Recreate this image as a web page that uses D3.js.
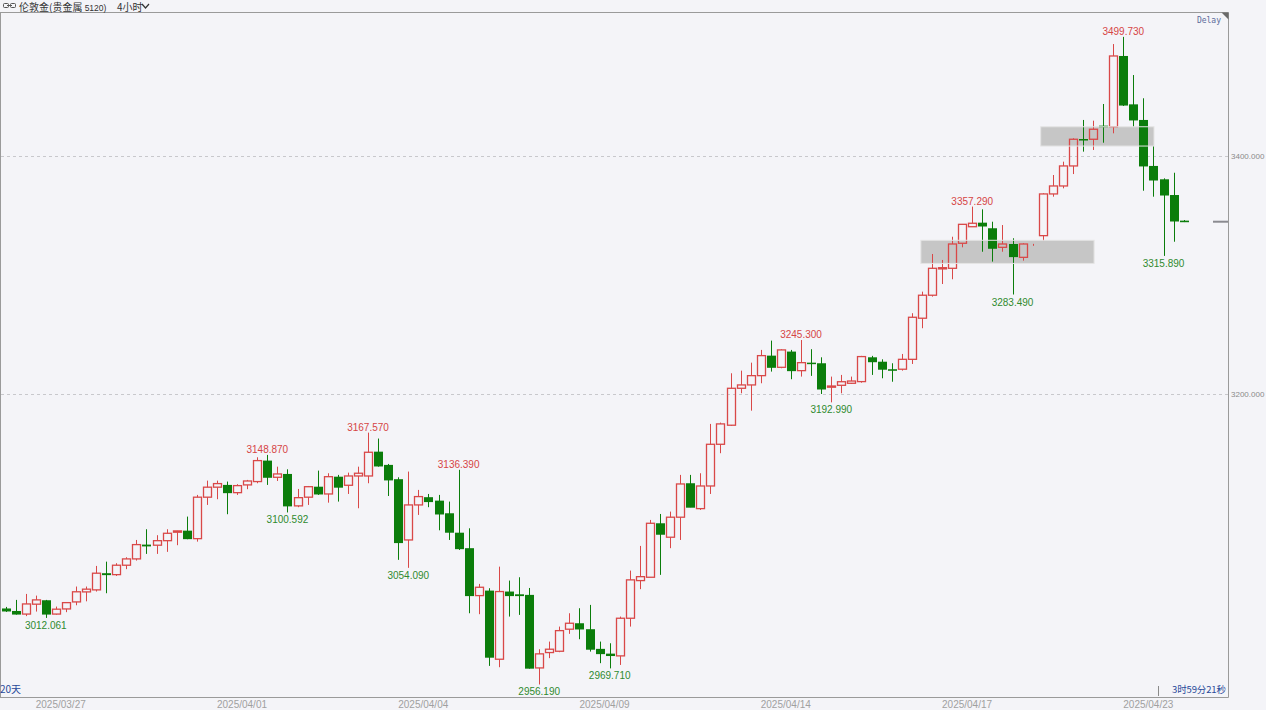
<!DOCTYPE html>
<html><head><meta charset="utf-8">
<script src="https://cdn.jsdelivr.net/npm/d3@7"></script>
<style>html,body{margin:0;padding:0;background:#f4f4f8;overflow:hidden}svg{display:block}</style>
</head><body>
<svg id="c" width="1266" height="710"></svg>
<script>
// ---- data (4-hour candles, London gold) ----
const opens  = [3020.0,3017.9,3015.3,3023.6,3026.9,3015.3,3019.6,3025.5,3033.9,3035.6,3049.6,3048.4,3056.3,3061.6,3073.6,3073.1,3076.9,3084.0,3085.3,3078.6,3113.4,3121.8,3123.7,3117.2,3123.7,3126.5,3144.1,3130.1,3132.9,3106.1,3113.4,3122.2,3116.1,3130.6,3123.4,3131.2,3131.2,3151.6,3140.5,3128.5,3077.5,3106.9,3113.4,3110.5,3099.9,3083.6,3070.6,3030.8,3035.0,2977.4,3034.2,3031.9,3031.4,2970.1,2983.0,2984.1,3002.6,3007.6,3002.6,2986.1,2982.1,2980.2,3011.8,3043.4,3046.2,3091.5,3079.8,3096.6,3125.1,3103.8,3122.8,3157.8,3173.8,3204.8,3207.6,3215.4,3232.2,3222.4,3235.6,3219.6,3226.3,3225.8,3205.7,3207.3,3209.0,3210.4,3230.8,3227.1,3220.8,3220.8,3229.1,3263.6,3282.9,3305.0,3305.5,3326.5,3340.4,3343.8,3339.1,3323.1,3325.9,3314.7,3325.6,3332.9,3367.9,3374.6,3391.4,3414.0,3413.8,3425.2,3424.3,3483.7,3443.1,3430.0,3391.4,3380.2,3367.0,3345.5];
const highs  = [3021.3,3027.2,3032.2,3030.8,3027.2,3021.6,3025.4,3038.4,3038.4,3055.7,3059.3,3058.0,3063.0,3077.5,3086.5,3081.5,3086.5,3085.2,3097.1,3115.3,3127.3,3127.3,3126.5,3124.3,3127.9,3146.9,3148.87,3139.0,3136.8,3120.3,3122.8,3135.7,3133.5,3132.1,3134.0,3139.0,3167.57,3162.6,3141.3,3130.1,3134.9,3119.5,3116.1,3115.3,3109.7,3136.39,3087.3,3040.6,3037.0,3055.1,3043.4,3046.2,3037.2,2985.8,2992.2,3004.8,3016.0,3020.2,3023.0,2992.2,2990.8,3013.2,3051.8,3072.5,3094.3,3099.3,3101.3,3132.1,3132.1,3133.5,3174.9,3176.0,3217.4,3219.6,3226.3,3237.0,3244.8,3237.6,3237.0,3245.3,3237.6,3230.8,3214.6,3216.0,3214.6,3232.0,3232.0,3229.1,3225.8,3233.6,3267.8,3285.9,3317.5,3312.5,3332.0,3342.7,3357.29,3355.0,3344.6,3341.8,3330.7,3326.5,3326.0,3368.5,3383.8,3395.0,3414.6,3430.0,3429.4,3443.4,3493.7,3499.73,3467.7,3448.2,3408.1,3381.0,3385.7,3346.0];
const lows   = [3017.1,3014.8,3013.6,3017.4,3012.061,3014.8,3016.9,3022.7,3026.0,3034.2,3032.8,3047.3,3053.0,3060.2,3065.8,3065.8,3067.5,3073.1,3078.1,3076.1,3106.9,3111.7,3099.1,3115.3,3120.1,3125.1,3123.7,3127.0,3100.592,3105.0,3106.9,3115.3,3108.8,3109.7,3116.1,3104.1,3125.1,3139.0,3114.4,3060.8,3054.09,3098.5,3105.0,3085.6,3077.5,3069.1,3016.0,3015.2,2971.8,2970.7,3013.2,3014.6,2969.5,2956.19,2978.3,2983.3,2998.7,2994.2,2983.8,2974.1,2969.71,2972.6,3004.8,3036.2,3046.2,3048.2,3070.6,3077.5,3105.0,3102.7,3116.1,3150.3,3173.2,3200.6,3186.0,3209.0,3218.8,3221.6,3212.4,3214.6,3215.2,3200.0,3192.99,3200.6,3208.4,3209.5,3216.0,3213.2,3210.3,3219.6,3225.2,3255.2,3281.7,3292.3,3296.3,3323.1,3340.4,3319.4,3311.1,3319.4,3283.49,3311.9,3325.2,3328.7,3365.6,3372.6,3384.6,3403.4,3404.8,3410.9,3418.8,3441.7,3424.3,3370.6,3365.6,3315.89,3327.8,3344.3];
const closes = [3017.9,3015.3,3023.8,3027.2,3015.3,3019.4,3024.9,3034.0,3036.2,3049.6,3048.4,3056.3,3061.6,3073.6,3072.5,3076.9,3083.1,3085.1,3078.6,3113.4,3121.8,3124.8,3117.2,3123.1,3127.0,3144.1,3130.1,3132.9,3106.1,3113.0,3122.2,3116.1,3130.6,3121.8,3131.2,3133.5,3151.1,3139.6,3127.9,3075.3,3106.9,3113.9,3109.7,3099.3,3084.0,3070.2,3030.8,3037.8,2979.1,3034.2,3030.8,3030.8,2969.9,2981.9,2985.8,3001.4,3007.6,3002.8,2985.8,2982.1,2980.5,3011.8,3044.0,3046.7,3091.5,3082.3,3096.6,3124.5,3105.0,3122.8,3157.8,3174.9,3204.8,3207.6,3215.4,3232.2,3222.4,3237.0,3219.6,3226.3,3225.5,3204.2,3206.7,3210.3,3210.9,3231.4,3227.1,3220.8,3219.9,3229.1,3264.4,3282.9,3305.5,3306.0,3325.9,3342.4,3343.3,3341.0,3322.3,3325.9,3315.3,3325.9,3325.8,3367.9,3374.6,3391.4,3413.8,3413.2,3422.2,3424.3,3483.7,3442.5,3430.0,3391.4,3379.6,3367.0,3345.2,3344.6];
const highMarks = [26, 36, 45, 79, 96, 111];
const lowMarks  = [4, 28, 40, 53, 60, 82, 100, 115];
const yTicks = [3200, 3400];
const dateTickIdx = [3, 21, 39, 57, 75, 93, 111];
const dateTickLabels = ["2025/03/27","2025/04/01","2025/04/04","2025/04/09","2025/04/14","2025/04/17","2025/04/23"];
const zones = [ {from: 90.9, to: 108.1, top: 3329.0, bottom: 3309.6}, {from: 102.8, to: 114.05, top: 3424.3, bottom: 3408.1} ];
const lastPrice = 3344.6;

// ---- drawing ----
const svg = d3.select("#c");
const W = 1266, H = 710, R = 1228.5, B = 697.5, T = 12.5;
const RED = "#d94848", GREEN = "#0b7d0b";
const x = d3.scaleLinear().domain([0, 117]).range([5.5, 1183.7]);
const y = d3.scaleLinear().domain([3200, 3400]).range([394, 155.7]);
const bw = 8;

svg.append("rect").attr("width", W).attr("height", H).attr("fill", "#f4f4f8");
svg.append("defs").append("clipPath").attr("id", "clip").append("rect")
  .attr("x", 1).attr("y", T).attr("width", R - 1).attr("height", B - T);

// grid
svg.append("g").selectAll("line").data(yTicks).join("line")
  .attr("x1", 1).attr("x2", R).attr("y1", d => Math.round(y(d)) + 0.5).attr("y2", d => Math.round(y(d)) + 0.5)
  .attr("stroke", "#c8c8cc").attr("stroke-dasharray", "3,3");

const plot = svg.append("g").attr("clip-path", "url(#clip)");
// zones
plot.selectAll("rect.zone").data(zones).join("rect").attr("class", "zone")
  .attr("x", d => x(d.from)).attr("width", d => x(d.to) - x(d.from))
  .attr("y", d => y(d.top)).attr("height", d => y(d.bottom) - y(d.top))
  .attr("fill", "#c6c6c6");

const idx = d3.range(opens.length);
const g = plot.append("g");
idx.forEach(i => {
  const o = opens[i], c = closes[i], h = highs[i], l = lows[i];
  const up = c >= o;
  const col = up ? RED : GREEN;
  const cx = Math.round(x(i)) + 0.5;
  const top = y(Math.max(o, c)), bot = y(Math.min(o, c));
  const bh = Math.max(1, bot - top);
  if (h - l < 1.2) {
    // near-empty session: just a tiny tick
    g.append("line").attr("x1", cx).attr("x2", cx).attr("y1", y(h)).attr("y2", y(l) + 1).attr("stroke", col);
    return;
  }
  if (up) {
    g.append("line").attr("x1", cx).attr("x2", cx).attr("y1", y(h)).attr("y2", top).attr("stroke", col);
    g.append("line").attr("x1", cx).attr("x2", cx).attr("y1", top + bh).attr("y2", y(l)).attr("stroke", col);
    g.append("rect").attr("x", cx - bw / 2).attr("y", top).attr("width", bw).attr("height", bh)
      .attr("fill", "none").attr("stroke", col).attr("stroke-width", 1.3);
  } else {
    g.append("line").attr("x1", cx).attr("x2", cx).attr("y1", y(h)).attr("y2", y(l)).attr("stroke", col);
    g.append("rect").attr("x", cx - bw / 2 - 0.5).attr("y", top).attr("width", bw + 1).attr("height", bh + 0.5)
      .attr("fill", col);
  }
});
// zone edges (light)
plot.selectAll("rect.zedge").data(zones).join("rect").attr("class", "zedge")
  .attr("x", d => x(d.from)).attr("width", d => x(d.to) - x(d.from))
  .attr("y", d => y(d.top)).attr("height", d => y(d.bottom) - y(d.top))
  .attr("fill", "none").attr("stroke", "#e4e4e4").attr("stroke-width", 1);

// hi / lo labels
const lf = "'Liberation Sans', Arial, sans-serif";
svg.append("g").selectAll("text").data(highMarks).join("text")
  .attr("x", i => x(i)).attr("y", i => y(highs[i]) - 2).attr("text-anchor", "middle")
  .attr("font-family", lf).attr("font-size", 10).attr("fill", "#d64545")
  .text(i => highs[i].toFixed(3));
svg.append("g").selectAll("text").data(lowMarks).join("text")
  .attr("x", i => x(i)).attr("y", i => y(lows[i]) + 11).attr("text-anchor", "middle")
  .attr("font-family", lf).attr("font-size", 10).attr("fill", "#2f8a2f")
  .text(i => lows[i].toFixed(3));

// frame
svg.append("line").attr("x1", 0).attr("x2", R).attr("y1", T).attr("y2", T).attr("stroke", "#9a9a9a");
svg.append("line").attr("x1", 0.5).attr("x2", 0.5).attr("y1", T).attr("y2", B).attr("stroke", "#9a9a9a");
svg.append("line").attr("x1", R).attr("x2", R).attr("y1", T).attr("y2", B).attr("stroke", "#9a9a9a");
svg.append("line").attr("x1", 0).attr("x2", R).attr("y1", B).attr("y2", B).attr("stroke", "#9a9a9a");
svg.append("path").attr("d", `M${R - 7},${T} L${R},${T} L${R},${T + 7} Z`).attr("fill", "#6a6a6a");
svg.append("text").attr("x", 1221).attr("y", 23).attr("text-anchor", "end")
  .attr("font-family", "'DejaVu Sans Mono', monospace").attr("font-size", 8).attr("fill", "#5a6a9a").text("Delay");

// right axis labels
svg.append("g").selectAll("text").data(yTicks).join("text")
  .attr("x", 1231).attr("y", d => y(d) + 3).attr("font-family", lf).attr("font-size", 8).attr("fill", "#8a8a8a")
  .text(d => d.toFixed(3));
// last price marker
svg.append("line").attr("x1", 1213).attr("x2", R - 0.5).attr("y1", y(lastPrice)).attr("y2", y(lastPrice))
  .attr("stroke", "#8a8a90").attr("stroke-width", 2);

// date axis
svg.append("g").selectAll("text").data(dateTickIdx).join("text")
  .attr("x", i => x(i)).attr("y", 708).attr("font-family", lf).attr("font-size", 10).attr("fill", "#a0a0a0")
  .text((d, k) => dateTickLabels[k]);

// bottom info
const cjk = "'Noto Sans CJK SC', sans-serif";
svg.append("text").attr("x", 0).attr("y", 693).attr("font-family", cjk).attr("font-size", 10).attr("fill", "#2a4a9a").text("20天");
svg.append("text").attr("x", 1226).attr("y", 693).attr("text-anchor", "end").attr("font-family", cjk).attr("font-size", 9.5)
  .attr("fill", "#2a4a9a").attr("textLength", 54).text("3时59分21秒");
svg.append("line").attr("x1", 1158.5).attr("x2", 1158.5).attr("y1", 686).attr("y2", 696).attr("stroke", "#8a8a8a");

// header
const hd = svg.append("g");
hd.append("rect").attr("x", 3.5).attr("y", 3.5).attr("width", 5).attr("height", 4).attr("rx", 1).attr("fill", "none").attr("stroke", "#555");
hd.append("rect").attr("x", 10.5).attr("y", 3.5).attr("width", 5).attr("height", 4).attr("rx", 1).attr("fill", "none").attr("stroke", "#555");
hd.append("line").attr("x1", 7).attr("x2", 12).attr("y1", 5.5).attr("y2", 5.5).attr("stroke", "#555");
const ht = hd.append("text").attr("x", 19).attr("y", 10.5).attr("font-family", cjk).attr("font-size", 10).attr("fill", "#333");
ht.append("tspan").text("伦敦金(贵金属 ");
ht.append("tspan").attr("font-size", 8.5).attr("font-family", lf).text("5120)");
hd.append("text").attr("x", 117).attr("y", 10.5).attr("font-family", cjk).attr("font-size", 10).attr("fill", "#333").text("4小时");
hd.append("path").attr("d", "M142,4 L145.5,8 L149,4").attr("fill", "none").attr("stroke", "#333").attr("stroke-width", 1.2);
</script>
</body></html>
